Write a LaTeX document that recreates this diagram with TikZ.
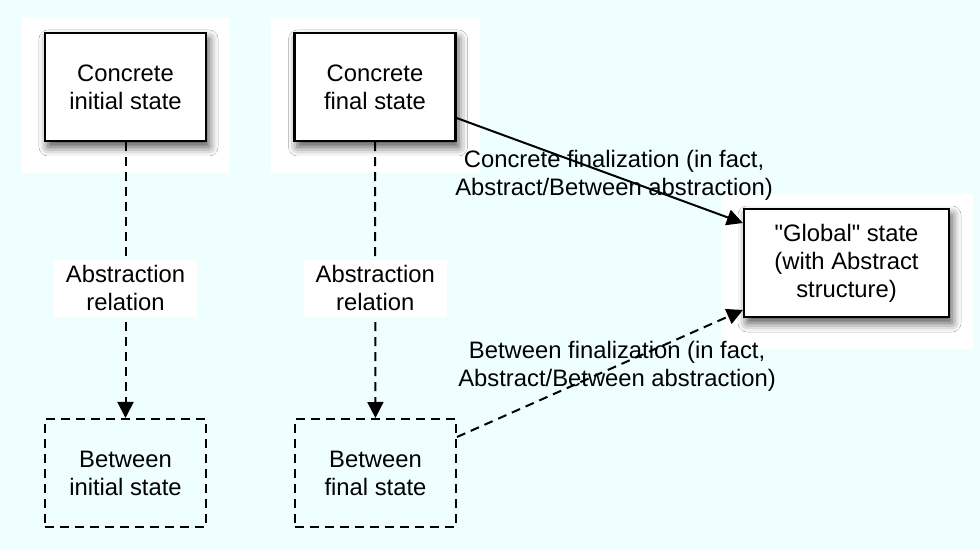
\documentclass[tikz,border=0pt]{standalone}
\usepackage{fontspec}
\setmainfont{Liberation Sans}
\usetikzlibrary{arrows.meta,calc,shadows.blur,backgrounds}
\definecolor{paleblue}{RGB}{239,255,255}
\begin{document}
\begin{tikzpicture}[x=0.5pt,y=-0.5pt]
	\tikzstyle{every node}=[font=\fontsize{11.9}{14}\selectfont, align=center]
	\tikzstyle{state}=[rectangle, draw, line width=1.1pt, fill=white, minimum width=80.5pt, minimum height=54pt, inner sep=0pt, blur shadow={shadow xshift=1.5pt, shadow yshift=-3pt, shadow blur radius=4.5pt, shadow opacity=70}]
	\tikzstyle{between}=[rectangle, draw, dash pattern=on 4.5pt off 3pt, line width=1pt, minimum width=80.5pt, minimum height=54pt, inner sep=0pt]
	\tikzstyle{rel}=[fill=white, minimum width=71.5pt, minimum height=28.5pt, inner sep=0pt]
	\tikzstyle{link}=[line width=1pt, -{Triangle[length=8pt,width=8pt]}]
	\tikzstyle{dashlink}=[link, dash pattern=on 4.5pt off 3pt]
	\tikzstyle{halo}=[fill=white]
	\node[state] (cinit) at (125.5,87) {Concrete\\initial state};
	\node[state] (cfinal) at (375,87) {Concrete\\final state};
	\node[between] (binit) at (125.5,473) {Between\\initial state};
	\node[between] (bfinal) at (375.5,473) {Between\\final state};
	\node[state, minimum width=102.5pt] (global) at (846.5,263) {\textquotedbl Global\textquotedbl{} state\\(with Abstract\\structure)};
	\draw[dashlink] (cinit) -- node[rel, pos=0.53] (rinit) {Abstraction\\relation} (binit);
	\draw[dashlink] (cfinal) -- node[rel, pos=0.53] (rfinal) {Abstraction\\relation} (bfinal);
	\draw[link] ($(cfinal.east)+(0,31)$) -- node[pos=0.55] (cfin) {Concrete finalization (in fact,\\Abstract/Between abstraction)} ($(global.west)+(0,-40)$);
	\draw[dashlink] ($(bfinal.east)+(0,-36)$) -- node[pos=0.56] (bfin) {Between finalization (in fact,\\Abstract/Between abstraction)} ($(global.west)+(0,47)$);
	\begin{pgfonlayer}{background}
		\fill[paleblue] (0,0) rectangle (980,550);
		\foreach \n in {cinit,cfinal,global}
			\fill[halo] ($(\n.north west)+(-22,-14)$) rectangle ($(\n.south east)+(23,31)$);
	\end{pgfonlayer}
\end{tikzpicture}
\end{document}
